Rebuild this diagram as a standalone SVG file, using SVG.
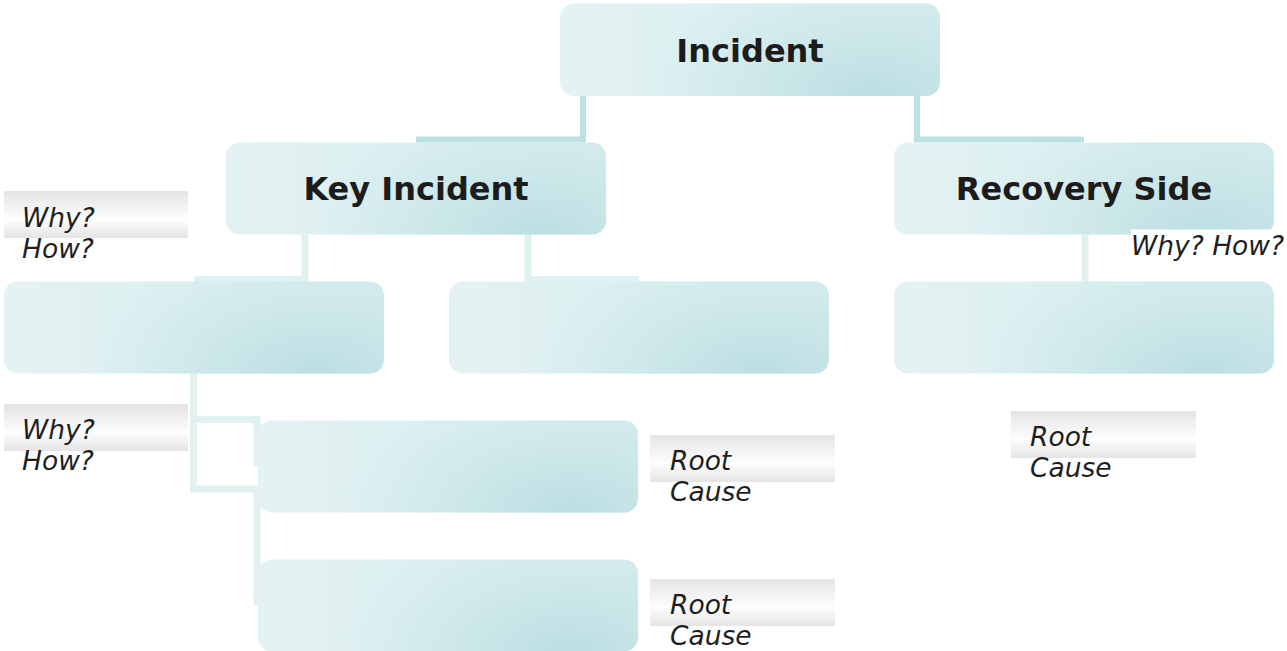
<svg xmlns="http://www.w3.org/2000/svg" width="1287" height="651" viewBox="0 0 1287 651">
<defs>
<linearGradient id="nodeBase" x1="0" y1="0" x2="1" y2="0">
<stop offset="0" stop-color="#e4f2f3"/>
<stop offset="0.5" stop-color="#dbeff0"/>
<stop offset="1" stop-color="#d8edef"/>
</linearGradient>
<radialGradient id="nodeShade" cx="0.82" cy="1" r="0.62" gradientTransform="translate(0.82 1) scale(1 2.2) translate(-0.82 -1)">
<stop offset="0" stop-color="#b9dde1" stop-opacity="0.95"/>
<stop offset="1" stop-color="#c6e4e7" stop-opacity="0"/>
</radialGradient>
<linearGradient id="tagGrad" x1="0" y1="0" x2="0" y2="1">
<stop offset="0" stop-color="#e4e4e4"/>
<stop offset="0.6" stop-color="#fdfdfd"/>
<stop offset="1" stop-color="#e4e4e4"/>
</linearGradient>
</defs>
<style>
.base{fill:url(#nodeBase)}
.shade{fill:url(#nodeShade)}
.title{font-family:"DejaVu Sans",sans-serif;font-weight:bold;font-size:32px;fill:#1c1c1c;text-anchor:middle}
.tag{fill:url(#tagGrad)}
.note{font-family:"DejaVu Sans",sans-serif;font-style:italic;font-size:26.5px;fill:#1f1f1f}
.c1{fill:none;stroke:#bde0e3;stroke-width:6}
.c2{fill:none;stroke:#e0f1f2;stroke-width:7}
</style>
<g id="connectors">
<path class="c1" d="M583 96 V139.5 H416"/>
<path class="c1" d="M917 96 V139.5 H1084"/>
<path class="c2" d="M305 235 V279.5 H194"/>
<path class="c2" d="M528 235 V279.5 H639"/>
<path class="c2" d="M1085 235 V282"/>
<path class="c2" d="M193.5 373 V419.5 H257 V466"/>
<path class="c2" d="M193.5 373 V489 H257 V605"/>
</g>
<g id="node-incident">
<rect class="base" x="560" y="3.5" width="380" height="92.5" rx="14"/>
<rect class="shade" x="560" y="3.5" width="380" height="92.5" rx="14"/>
<text class="title" x="750" y="61.5">Incident</text>
</g>
<g id="node-key-incident">
<rect class="base" x="226" y="142.5" width="380" height="92" rx="14"/>
<rect class="shade" x="226" y="142.5" width="380" height="92" rx="14"/>
<text class="title" x="416" y="200">Key Incident</text>
</g>
<g id="node-recovery-side">
<rect class="base" x="894" y="142.5" width="380" height="92" rx="14"/>
<rect class="shade" x="894" y="142.5" width="380" height="92" rx="14"/>
<text class="title" x="1084" y="200">Recovery Side</text>
</g>
<g id="node-a">
<rect class="base" x="4" y="281.5" width="380" height="92" rx="14"/>
<rect class="shade" x="4" y="281.5" width="380" height="92" rx="14"/>
</g>
<g id="node-b">
<rect class="base" x="449" y="281.5" width="380" height="92" rx="14"/>
<rect class="shade" x="449" y="281.5" width="380" height="92" rx="14"/>
</g>
<g id="node-c">
<rect class="base" x="894" y="281.5" width="380" height="92" rx="14"/>
<rect class="shade" x="894" y="281.5" width="380" height="92" rx="14"/>
</g>
<g id="node-d">
<rect class="base" x="258" y="420.5" width="380" height="92" rx="14"/>
<rect class="shade" x="258" y="420.5" width="380" height="92" rx="14"/>
</g>
<g id="node-e">
<rect class="base" x="258" y="559.5" width="380" height="92" rx="14"/>
<rect class="shade" x="258" y="559.5" width="380" height="92" rx="14"/>
</g>
<g id="label-why-1">
<rect class="tag" x="4" y="191" width="184" height="47"/>
<text class="note" x="22" y="227">Why?</text>
<text class="note" x="22" y="257.5">How?</text>
</g>
<g id="label-why-2">
<rect class="tag" x="4" y="404" width="184" height="47"/>
<text class="note" x="22" y="439">Why?</text>
<text class="note" x="22" y="469.5">How?</text>
</g>
<g id="label-why-3">
<rect x="1131" y="229.5" width="156" height="38" fill="#ffffff"/>
<text class="note" x="1131" y="255">Why? How?</text>
</g>
<g id="label-root-1">
<rect class="tag" x="650" y="435" width="185" height="47"/>
<text class="note" x="670" y="470">Root</text>
<text class="note" x="670" y="500.5">Cause</text>
</g>
<g id="label-root-2">
<rect class="tag" x="650" y="579" width="185" height="47"/>
<text class="note" x="670" y="614">Root</text>
<text class="note" x="670" y="644.5">Cause</text>
</g>
<g id="label-root-3">
<rect class="tag" x="1011" y="411" width="185" height="47"/>
<text class="note" x="1030" y="446">Root</text>
<text class="note" x="1030" y="476.5">Cause</text>
</g>
</svg>
